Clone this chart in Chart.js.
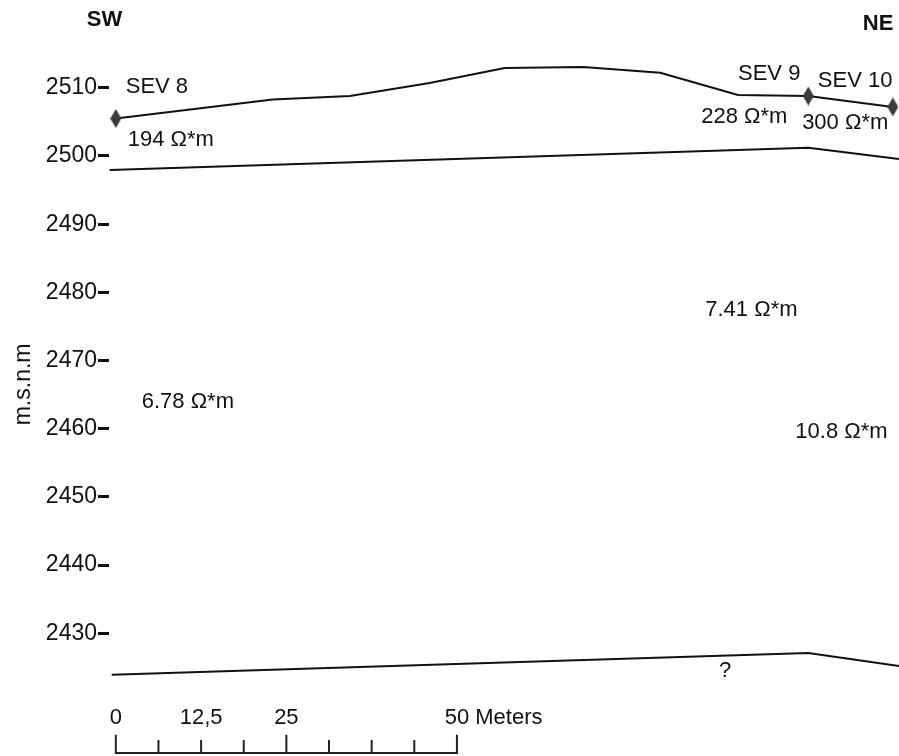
<!DOCTYPE html>
<html>
<head>
<meta charset="utf-8">
<script src="https://cdn.jsdelivr.net/npm/chart.js@4"></script>
<style>
    html, body { margin: 0; padding: 0; background: #fff; }
    canvas { display: block; }
</style>
</head>
<body>
<canvas id="profile-chart" width="899" height="756"></canvas>
<script>
// ground surface (distance in meters, elevation m.s.n.m)
const surfaceX = [0, 23.0, 34.3, 46.0, 57.0, 68.5, 79.8, 91.2, 101.5, 113.9];
const surfaceElev = [2505.5, 2508.3, 2508.8, 2510.7, 2512.9, 2513.05, 2512.2, 2508.95, 2508.8, 2507.2];
// index of the sounding points on the surface line
const sevIndex = [0, 8, 9];

// upper layer boundary
const layer1X = [-0.9, 101.5, 114.8];
const layer1Elev = [2497.95, 2501.2, 2499.55];

// lower layer boundary
const layer2X = [-0.6, 101.5, 114.8];
const layer2Elev = [2423.9, 2427.1, 2425.2];

// y axis ticks
const yTicks = [2430, 2440, 2450, 2460, 2470, 2480, 2490, 2500, 2510];

// scale bar (meters)
const scaleTicks = [0, 6.25, 12.5, 18.75, 25, 31.25, 37.5, 43.75, 50];
const scaleMajor = [0, 25, 50];
const scaleLabelValues = [0, 12.5, 25, 50];
const scaleLabelTexts = ['0', '12,5', '25', '50 Meters'];

// text labels placed at (distance, elevation), left edge / vertical middle
const labelTexts = ['SEV 8', '194 Ω*m', 'SEV 9', 'SEV 10', '228 Ω*m', '300 Ω*m', '7.41 Ω*m', '6.78 Ω*m', '10.8 Ω*m', '?'];
const labelX = [1.45, 1.75, 91.2, 102.9, 85.8, 100.6, 86.4, 3.8, 99.6, 88.4];
const labelElev = [2510.1, 2502.35, 2512.0, 2511.0, 2505.7, 2504.85, 2477.4, 2463.9, 2459.5, 2424.5];

const FONT = '"Liberation Sans", Arial, sans-serif';

// elongated diamond marker
function makeDiamond() {
    const c = document.createElement('canvas');
    c.width = 11;
    c.height = 19;
    const g = c.getContext('2d');
    g.fillStyle = '#3b3b3b';
    g.beginPath();
    g.moveTo(5.5, 0);
    g.lineTo(11, 9.5);
    g.lineTo(5.5, 19);
    g.lineTo(0, 9.5);
    g.closePath();
    g.fill();
    return c;
}
const diamond = makeDiamond();

function toPoints(xs, ys) {
    return xs.map((x, i) => ({ x, y: ys[i] }));
}

// scale bar as one polyline going up and down each tick
function scaleBarPoints(base, majorTop, minorTop) {
    const pts = [];
    scaleTicks.forEach((t, i) => {
        const top = scaleMajor.includes(t) ? majorTop : minorTop;
        if (i === 0) {
            pts.push({ x: t, y: top }, { x: t, y: base });
        } else {
            pts.push({ x: t, y: base }, { x: t, y: top }, { x: t, y: base });
        }
    });
    return pts;
}

const SCALE_BASE = 2412.44;
const SCALE_MAJOR_TOP = 2415.1;
const SCALE_MINOR_TOP = 2414.35;
const SCALE_TEXT = 2417.55;

// draws the annotations
const textPlugin = {
    id: 'profileText',
    afterDatasetsDraw(chart) {
        const { ctx, scales: { x, y } } = chart;
        ctx.save();
        ctx.fillStyle = '#111';
        ctx.textBaseline = 'middle';
        ctx.font = '22px ' + FONT;
        ctx.textAlign = 'left';
        labelTexts.forEach((t, i) => {
            ctx.fillText(t, x.getPixelForValue(labelX[i]), y.getPixelForValue(labelElev[i]));
        });

        // scale bar labels
        scaleLabelTexts.forEach((t, i) => {
            const px = x.getPixelForValue(scaleLabelValues[i]);
            const py = y.getPixelForValue(SCALE_TEXT);
            if (i === scaleLabelTexts.length - 1) {
                ctx.textAlign = 'left';
                ctx.fillText(t, px - ctx.measureText('50').width / 2, py);
            } else {
                ctx.textAlign = 'center';
                ctx.fillText(t, px, py);
            }
        });

        // directions
        ctx.font = 'bold 22px ' + FONT;
        ctx.textAlign = 'left';
        ctx.fillText('SW', x.getPixelForValue(-4.25), y.getPixelForValue(2519.95));
        ctx.fillText('NE', x.getPixelForValue(109.5), y.getPixelForValue(2519.35));

        // axis title
        ctx.font = '23px ' + FONT;
        ctx.textAlign = 'center';
        ctx.translate(24, y.getPixelForValue(2466.5));
        ctx.rotate(-Math.PI / 2);
        ctx.fillText('m.s.n.m', 0, 0);
        ctx.restore();
    }
};

const lineStyle = {
    borderColor: '#111',
    borderWidth: 2,
    fill: false,
    tension: 0,
    pointRadius: 0
};

new Chart(document.getElementById('profile-chart'), {
    type: 'line',
    data: {
        datasets: [
            {
                ...lineStyle,
                data: toPoints(surfaceX, surfaceElev),
                pointStyle: diamond,
                pointRadius: surfaceX.map((_, i) => sevIndex.includes(i) ? 6 : 0)
            },
            { ...lineStyle, data: toPoints(layer1X, layer1Elev) },
            { ...lineStyle, data: toPoints(layer2X, layer2Elev) },
            {
                ...lineStyle,
                borderColor: '#222',
                borderWidth: 2,
                borderJoinStyle: 'miter',
                data: scaleBarPoints(SCALE_BASE, SCALE_MAJOR_TOP, SCALE_MINOR_TOP)
            }
        ]
    },
    options: {
        responsive: false,
        animation: false,
        devicePixelRatio: 1,
        layout: {
            autoPadding: false,
            padding: { top: 6, bottom: 0, left: 0, right: 0 }
        },
        plugins: {
            legend: { display: false },
            tooltip: { enabled: false }
        },
        scales: {
            x: {
                type: 'linear',
                display: false,
                min: -1,
                max: 114.8
            },
            y: {
                type: 'linear',
                min: 2412,
                max: 2522,
                afterFit: (scale) => {
                    // fixed axis width, no label padding at the ends
                    scale.width = 109;
                    scale.paddingTop = 0;
                    scale.paddingBottom = 0;
                },
                afterBuildTicks: (scale) => { scale.ticks = yTicks.map(v => ({ value: v })); },
                border: { display: false },
                grid: {
                    drawOnChartArea: false,
                    tickLength: 11,
                    tickWidth: 3,
                    tickColor: '#111'
                },
                ticks: {
                    padding: 1,
                    color: '#111',
                    font: { family: FONT, size: 23 },
                    callback: (v) => String(v)
                }
            }
        }
    },
    plugins: [textPlugin]
});
</script>
</body>
</html>
